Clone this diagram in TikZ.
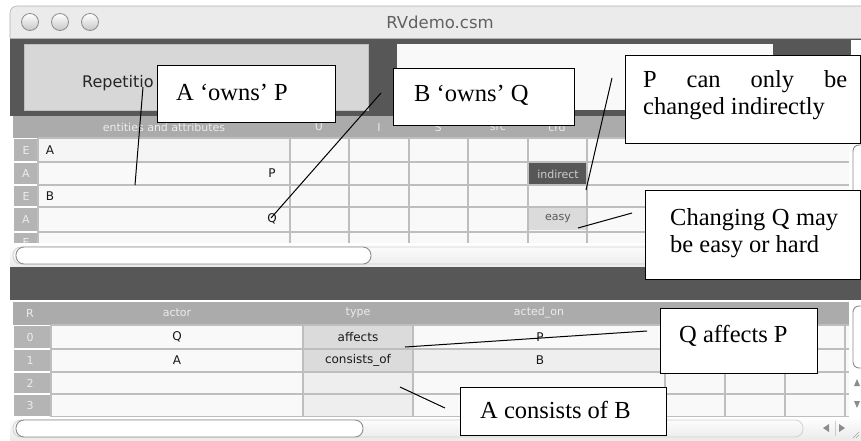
\documentclass[tikz,border=0pt]{standalone}
\usepackage{fontspec}
\setmainfont{Liberation Serif}
\newfontfamily\uifont{DejaVu Sans}
\usetikzlibrary{calc}
\definecolor{panel}{HTML}{575757}
\definecolor{hdr}{HTML}{ABABAB}
\definecolor{idx}{HTML}{B4B4B4}
\definecolor{gridc}{HTML}{BEBEBE}
\definecolor{cellw}{HTML}{F9F9F9}
\definecolor{titlebg}{HTML}{EBEBEB}
\definecolor{btn}{HTML}{D7D7D7}
\definecolor{hdrtxt}{HTML}{ECECEC}
\definecolor{lightcell}{HTML}{DBDBDB}
\definecolor{palecell}{HTML}{EEEEEE}
\definecolor{sbline}{HTML}{8C8C8C}
\begin{document}
\begin{tikzpicture}[x=1pt,y=-1pt,
  callbox/.style={draw=black, line width=1.1pt, fill=white, inner sep=0pt, anchor=north west},
  calltext/.style={anchor=base west, inner sep=0pt, font=\fontsize{24.5}{27}\selectfont},
  leader/.style={line width=1pt, black},
  celltext/.style={inner sep=0pt, font=\uifont\fontsize{12}{14}\selectfont, text=black!90},
  hdrtext/.style={inner sep=0pt, font=\uifont\fontsize{11}{13}\selectfont, text=hdrtxt},
  idxtext/.style={inner sep=0pt, font=\uifont\fontsize{11}{13}\selectfont, text=white!85!gray},
  gridline/.style={draw=gridc, line width=1.4pt},
  thumb/.style={draw=sbline, fill=white, line width=0.9pt, rounded corners=8pt}
]
\useasboundingbox (0,0) rectangle (861,440);
\clip (0,0) rectangle (861,440);
\fill[white] (0,0) rectangle (861,440);

% ---------- title bar ----------
\fill[titlebg] (10,38) [rounded corners=7pt] -- (10,6) -- (880,6) [sharp corners] -- (880,38) -- cycle;
\draw[draw=gray!60, line width=0.6pt] (10,38) [rounded corners=7pt] -- (10,6) -- (880,6);
\foreach \cx in {30,60,90}{
  \draw[top color=white, bottom color=black!22, draw=black!45, line width=0.8pt] (\cx,22) circle (8.5);
}
\node[inner sep=0pt, font=\uifont\fontsize{16.5}{19}\selectfont, text=black!62] (ttl) at (440,22) {RVdemo.csm};

% ---------- top panel ----------
\fill[panel] (10,38) rectangle (861,116);
\draw[draw=black!30, line width=0.8pt] (10,38) -- (861,38);
\draw[fill=btn, draw=black!25, line width=0.6pt] (24,44) rectangle (368,110);
\node[anchor=base west, inner sep=0pt, font=\uifont\fontsize{16}{19}\selectfont, text=black!85] (rep) at (82,87) {Repetitio};
\fill[white!95!gray] (397,44) rectangle (773,110);
\fill[white] (851,40) rectangle (861,55);

% ---------- top table ----------
\fill[white] (10,116) rectangle (861,267);
\fill[hdr] (13,116) rectangle (849,138);
\node[hdrtext] (h1) at (164,127) {entities and attributes};
\node[hdrtext] (h2) at (319,127) {U};
\node[hdrtext] (h3) at (379,127) {I};
\node[hdrtext] (h4) at (438,127) {S};
\node[hdrtext] (h5) at (498,127) {src};
\node[hdrtext] (h6) at (557,127) {crd};
\fill[cellw] (38,138) rectangle (849,243);
\foreach \ya/\yb in {139/161,163/184,186/206,208/231,233/243}{
  \fill[idx] (14,\ya) rectangle (37,\yb);
}
\fill[palecell!60!white] (38,139) rectangle (289,161);
\fill[panel] (529,163) rectangle (587,185);
\fill[lightcell] (529,208) rectangle (587,230);
\foreach \y in {138,162,185,207,232}{
  \draw[gridline] (38,\y) -- (849,\y);
}
\foreach \x in {38,290,349,409,468,528,587}{
  \draw[gridline] (\x,138) -- (\x,243);
}
\node[idxtext] (e1) at (26,150) {E};
\node[idxtext] (a1) at (26,173) {A};
\node[idxtext] (e2) at (26,196) {E};
\node[idxtext] (a2) at (26,219) {A};
\begin{scope}
  \clip (14,233) rectangle (37,243);
  \node[idxtext] (e3) at (26,242) {E};
\end{scope}
\node[celltext] (vA) at (50,150) {A};
\node[celltext] (vP) at (272,173) {P};
\node[celltext] (vB) at (50,196) {B};
\node[celltext] (vQ) at (272,219) {Q};
\node[celltext, text=black!20, font=\uifont\fontsize{11}{13}\selectfont] (ind) at (558,174) {indirect};
\node[celltext, text=black!65, font=\uifont\fontsize{11}{13}\selectfont] (easy) at (558,219) {easy};
% vertical scrollbar (top)
\fill[white] (850,116) rectangle (861,243);
\draw[thumb, rounded corners=6pt] (853,145) rectangle (870,215);
% horizontal scrollbar (top)
\shade[top color=white, bottom color=black!8] (10,243) rectangle (861,267);
\draw[draw=black!18, line width=0.8pt, rounded corners=8pt] (13,247) rectangle (803,264);
\draw[thumb] (16,247) rectangle (371,264);

% ---------- bottom panel ----------
\fill[panel] (10,267) rectangle (861,300);

% ---------- bottom table ----------
\fill[hdr] (13,302) rectangle (849,325);
\node[hdrtext] (r0) at (30,313) {R};
\node[hdrtext] (r1) at (177,313) {actor};
\node[hdrtext] (r2) at (358,313) {type};
\node[hdrtext] (r3) at (539,313) {acted\_on};
\fill[cellw] (51,325) rectangle (849,417);
\foreach \ya/\yb in {326/348,350/371,373/393,395/416}{
  \fill[idx] (14,\ya) rectangle (50,\yb);
}
\fill[lightcell] (304,326) rectangle (413,348);
\fill[lightcell] (304,350) rectangle (413,371);
\fill[palecell] (304,373) rectangle (413,416);
\fill[palecell] (414,350) rectangle (665,371);
\foreach \y in {325,349,372,394,417}{
  \draw[gridline] (51,\y) -- (849,\y);
}
\foreach \x in {51,303,413,665,725,785,845}{
  \draw[gridline] (\x,325) -- (\x,417);
}
\node[idxtext] (n0) at (30,337) {0};
\node[idxtext] (n1) at (30,360) {1};
\node[idxtext] (n2) at (30,383) {2};
\node[idxtext] (n3) at (30,405) {3};
\node[celltext] (aQ) at (177,337) {Q};
\node[celltext] (aA) at (177,360) {A};
\node[celltext] (tyA) at (358,337) {affects};
\node[celltext] (tyC) at (358,360) {consists\_of};
\node[celltext] (oP) at (540,337) {P};
\node[celltext] (oB) at (540,360) {B};
% vertical scrollbar (bottom)
\fill[white] (850,302) rectangle (861,417);
\draw[thumb, rounded corners=6pt] (853,306) rectangle (870,368);
\fill[black!45] (854,386) -- (860,386) -- (857,379) -- cycle;
\fill[black!45] (854,401) -- (860,401) -- (857,408) -- cycle;
% horizontal scrollbar (bottom)
\shade[top color=white, bottom color=black!8] (10,417) rectangle (861,440);
\draw[draw=black!18, line width=0.8pt, rounded corners=8pt] (13,420) rectangle (803,437);
\draw[thumb] (16,420) rectangle (363,437);
\fill[black!45] (823,428) -- (829,424) -- (829,432) -- cycle;
\fill[black!45] (845,428) -- (839,424) -- (839,432) -- cycle;
\draw[black!20, line width=0.6pt] (835,421) -- (835,436);
\draw[black!35, line width=0.6pt] (853,438) -- (859,432) (856,438) -- (859,435);

% ---------- leader lines ----------
\coordinate (l1s) at (143,87);  \coordinate (l1e) at (135,185);
\coordinate (l2s) at (381,93);  \coordinate (l2e) at (271,218);
\coordinate (l3s) at (612,78);  \coordinate (l3e) at (586,190);
\coordinate (l4s) at (632,213); \coordinate (l4e) at (578,228);
\coordinate (l5s) at (647,331); \coordinate (l5e) at (405,347);
\coordinate (l6s) at (445,408); \coordinate (l6e) at (400,387);
\draw[leader] (l1s) -- (l1e);
\draw[leader] (l2s) -- (l2e);
\draw[leader] (l3s) -- (l3e);
\draw[leader] (l4s) -- (l4e);
\draw[leader] (l5s) -- (l5e);
\draw[leader] (l6s) -- (l6e);

% ---------- callouts ----------
\node[callbox, minimum width=178pt, minimum height=57pt] (c1) at (157,65) {};
\node[calltext] (t1) at (176,100) {A ‘owns’ P};
\node[callbox, minimum width=181pt, minimum height=57pt] (c2) at (393,68) {};
\node[calltext] (t2) at (414,101) {B ‘owns’ Q};
\node[callbox, minimum width=235pt, minimum height=88pt] (c3) at (625,55) {};
\node[calltext] (t3a) at (643,87) {\hbox to 204pt{P\hfill can\hfill only\hfill be}};
\node[calltext] (t3b) at (643,114) {changed indirectly};
\node[callbox, minimum width=215pt, minimum height=89pt] (c4) at (645,190) {};
\node[calltext] (t4a) at (670,225) {\hbox to 168pt{Changing\hfill Q\hfill may}};
\node[calltext] (t4b) at (670,252) {be easy or hard};
\node[callbox, minimum width=157pt, minimum height=65pt] (c5) at (660,308) {};
\node[calltext] (t5) at (679,342) {Q affects P};
\node[callbox, minimum width=206pt, minimum height=48pt] (c6) at (460,387) {};
\node[calltext] (t6) at (480,418) {A consists of B};
\end{tikzpicture}
\end{document}
